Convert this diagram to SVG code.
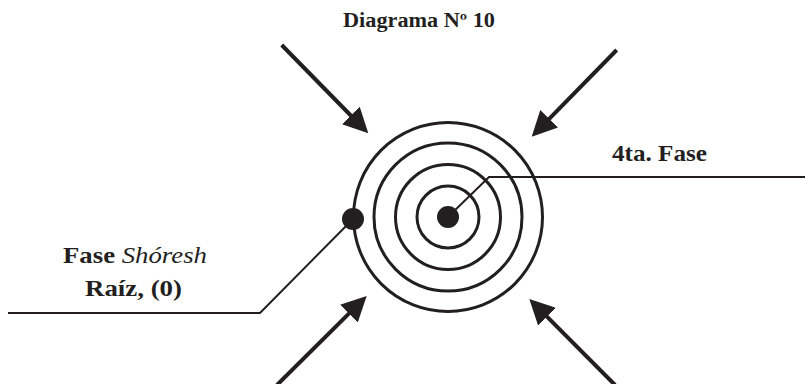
<svg xmlns="http://www.w3.org/2000/svg" width="805" height="384" viewBox="0 0 805 384">
<style>
.t{font-family:"Liberation Serif","DejaVu Serif",serif;font-weight:bold;fill:#231f20}
.ring{fill:none;stroke:#231f20;stroke-width:3}
.arr{stroke:#231f20;stroke-width:4;fill:none;marker-end:url(#ah)}
.lead{stroke:#231f20;stroke-width:2;fill:none}
</style>
<defs>
<marker id="ah" markerUnits="userSpaceOnUse" markerWidth="25" markerHeight="25" refX="7" refY="12.5" orient="auto" viewBox="0 0 25 25">
<path d="M0,0 L25,12.5 L0,25 Z" fill="#231f20"/>
</marker>
</defs>
<rect width="805" height="384" fill="#fff"/>
<g id="title"><text class="t" x="343" y="27" font-size="20" textLength="152" lengthAdjust="spacingAndGlyphs">Diagrama Nº 10</text></g>
<g id="rings">
<circle class="ring" cx="448" cy="217" r="94.5"/>
<circle class="ring" cx="448" cy="217" r="74"/>
<circle class="ring" cx="448" cy="217" r="52.5"/>
<circle class="ring" cx="448" cy="217" r="31"/>
<circle cx="448" cy="217" r="11" fill="#231f20"/>
</g>
<g id="root-dot"><circle cx="353" cy="219" r="11" fill="#231f20"/></g>
<g id="label-4ta"><text class="t" x="612" y="161" font-size="24" textLength="95" lengthAdjust="spacingAndGlyphs">4ta. Fase</text></g>
<g id="label-root">
<text class="t" x="63" y="263" font-size="24" textLength="144" lengthAdjust="spacingAndGlyphs">Fase <tspan font-style="italic" font-weight="normal">Shóresh</tspan></text>
<text class="t" x="85" y="296" font-size="24" textLength="97" lengthAdjust="spacingAndGlyphs">Raíz, (0)</text>
</g>
<g id="connectors">
<polyline class="lead" points="448,217 489,177 805,177"/>
<polyline class="lead" points="353,219 260,313 8,313"/>
<line class="arr" x1="281.7" y1="45" x2="355.7" y2="120.5"/>
<line class="arr" x1="616.7" y1="50" x2="544.3" y2="123.8"/>
<line class="arr" x1="277" y1="385" x2="353.9" y2="308.7"/>
<line class="arr" x1="615" y1="385" x2="542" y2="311.7"/>
</g>
</svg>
